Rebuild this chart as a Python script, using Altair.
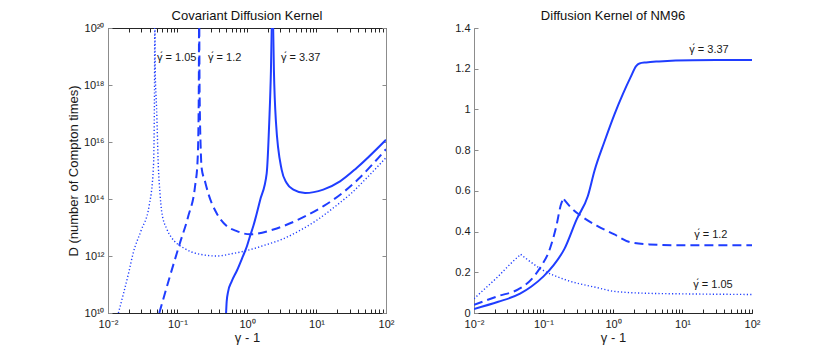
import altair as alt
import pandas as pd

FONT = "Liberation Sans"
BLUE = "#1f3dff"
XDARK = "#262626"
YGRAY = "#8c8c8c"
W, H = 278, 285

# ---------------- Left panel: Covariant Diffusion Kernel (x = gamma-1, values = log10 D) ----
dot_a_x = [0.0141, 0.02, 0.023, 0.03, 0.039, 0.045, 0.0462, 0.0468, 0.0471]
dot_a_e = [10.0, 11.45, 12.1, 12.9, 13.75, 15.1, 16.5, 18.5, 21.0]
dot_b_x = [0.0473, 0.0478, 0.05, 0.053, 0.056, 0.0593, 0.07, 0.0824, 0.1, 0.121, 0.16,
           0.211, 0.363, 0.635, 1.1, 1.8, 3.3, 6.0, 10.0, 20.0, 31.6, 50.0, 100.0]
dot_b_e = [21.0, 18.5, 17.2, 15.15, 14.2, 13.55, 12.95, 12.64, 12.42, 12.29, 12.14,
           12.06, 12.0, 12.09, 12.22, 12.38, 12.6, 12.92, 13.25, 13.8, 14.2, 14.68, 15.45]

dash_a_x = [0.0547, 0.078, 0.1086, 0.143, 0.179, 0.194, 0.2, 0.203, 0.2045]
dash_a_e = [10.0, 11.3, 12.46, 13.4, 14.45, 15.3, 16.5, 18.5, 21.0]
dash_b_x = [0.2055, 0.207, 0.21, 0.215, 0.222, 0.25, 0.277, 0.366, 0.51, 0.7, 1.1,
            2.4, 7.2, 12.6, 21.9, 40.0, 63.0, 100.0]
dash_b_e = [21.0, 18.5, 17.0, 15.9, 15.1, 14.6, 14.2, 13.5, 13.05, 12.88, 12.76,
            12.93, 13.42, 13.75, 14.15, 14.7, 15.2, 15.75]

sol_a_x = [0.5, 0.51, 0.535, 0.6, 0.72, 0.86, 1.0, 1.1, 1.233, 1.54, 1.92, 2.09, 2.21, 2.31]
sol_a_e = [10.0, 10.4, 10.75, 11.1, 11.5, 11.95, 12.35, 12.68, 13.05, 13.95, 14.9, 16.7, 18.5, 21.0]
sol_b_x = [2.34, 2.44, 2.61, 3.15, 3.72, 4.65, 6.84, 12.5, 21.8, 37.8, 100.0]
sol_b_e = [21.0, 18.5, 16.7, 15.03, 14.56, 14.33, 14.21, 14.33, 14.62, 15.09, 16.08]

left_lab_text = ["γ́ = 1.05", "γ́ = 1.2", "γ́ = 3.37"]
left_lab_x = [0.0507, 0.275, 3.08]
left_lab_e = [18.93, 18.93, 18.93]

# ---------------- Right panel: Diffusion Kernel of NM96 ----------------
r_sol_x = [0.01, 0.0223, 0.046, 0.067, 0.1, 0.14, 0.2, 0.3, 0.435, 0.543, 0.75, 1.05,
           1.38, 1.8, 2.15, 2.4, 3.0, 4.6, 14.0, 100.0]
r_sol_y = [0.02, 0.055, 0.095, 0.13, 0.18, 0.235, 0.315, 0.46, 0.575, 0.7, 0.84, 0.976,
           1.074, 1.16, 1.213, 1.226, 1.231, 1.236, 1.242, 1.243]

r_dash_up_x = [0.01, 0.0223, 0.0432, 0.067, 0.093, 0.123, 0.153, 0.181, 0.197]
r_dash_up_y = [0.04, 0.083, 0.116, 0.165, 0.231, 0.313, 0.427, 0.54, 0.558]
r_dash_dn_x = [0.197, 0.25, 0.35, 0.6, 1.05, 1.73, 3.33, 8.0, 100.0]
r_dash_dn_y = [0.558, 0.517, 0.476, 0.427, 0.386, 0.349, 0.337, 0.333, 0.333]

r_dot_up_x = [0.01, 0.0144, 0.0223, 0.032, 0.047]
r_dot_up_y = [0.07, 0.12, 0.18, 0.235, 0.288]
r_dot_dn_x = [0.047, 0.06, 0.093, 0.2, 0.6, 1.05, 3.0, 10.0, 100.0]
r_dot_dn_y = [0.288, 0.26, 0.215, 0.165, 0.124, 0.106, 0.097, 0.094, 0.091]

right_lab_text = ["γ́ = 3.37", "γ́ = 1.2", "γ́ = 1.05"]
right_lab_x = [12.5, 14.7, 14.3]
right_lab_y = [1.29, 0.383, 0.138]

# ---------------- tick values ----------------
x_major = [0.01, 0.1, 1, 10, 100]
x_major_exp = [-2, -1, 0, 1, 2]
x_ticks = [m * 10.0 ** e for e in range(-2, 2) for m in range(1, 10)] + [100.0]
y_left_major = [1e10, 1e12, 1e14, 1e16, 1e18, 1e20]
y_left_exp = [10, 12, 14, 16, 18, 20]
y_right_major = [0, 0.2, 0.4, 0.6, 0.8, 1.0, 1.2, 1.4]

SUP = str.maketrans("-0123456789", "⁻⁰¹²³⁴⁵⁶⁷⁸⁹")


def pow_label_expr(values, exps):
    parts = []
    for v, e in zip(values, exps):
        parts.append(f"abs(datum.value - {v!r}) <= {abs(v) * 1e-6!r} ? '10{str(e).translate(SUP)}'")
    return " : ".join(parts) + " : ''"


def branches_df(branches, expo=False):
    rows = []
    for b, (xs, ys) in enumerate(branches):
        for x, y in zip(xs, ys):
            rows.append({"x": x, "y": (10.0 ** y) if expo else y, "b": b})
    return pd.DataFrame(rows)


def build_panel(curves, labels, xscale, yscale, title, ytitle, ymajor, ylabel_kw, box):
    xs_lab = alt.Axis(orient="bottom", values=x_major, labelExpr=pow_label_expr(x_major, x_major_exp),
                      title="γ - 1", ticks=False, tickSize=0, grid=False, domainColor=XDARK,
                      labelPadding=5, titlePadding=2, labelFlush=False)
    ys_lab = alt.Axis(orient="left", values=ymajor, title=ytitle, ticks=False, tickSize=0, grid=False,
                      domainColor=YGRAY, labelPadding=4, titlePadding=0, minExtent=28, maxExtent=28,
                      **ylabel_kw)
    xs_in_b = alt.Axis(orient="top", offset=-H, values=x_ticks, labels=False, title=None, tickSize=4,
                       grid=False, domainColor=XDARK, tickColor=XDARK)
    ys_in_l = alt.Axis(orient="right", offset=-W, values=ymajor, labels=False, title=None, tickSize=4,
                       grid=False, domainColor=YGRAY, tickColor=YGRAY)
    xs_in_t = alt.Axis(orient="bottom", offset=-H, values=x_ticks, labels=False, title=None, tickSize=4,
                       grid=False, domainColor=XDARK, tickColor=XDARK)
    ys_in_r = alt.Axis(orient="left", offset=-W, values=ymajor, labels=False, title=None, tickSize=4,
                       grid=False, domainColor=YGRAY, tickColor=YGRAY)
    axes = [(xs_lab, ys_lab), (xs_in_b, ys_in_l)]
    if box:
        axes.append((xs_in_t, ys_in_r))
    layers = []
    for i, (df, dash, width) in enumerate(curves):
        ax = axes[i] if i < len(axes) else (None, None)
        mk = dict(color=BLUE, strokeWidth=width, clip=True, interpolate="monotone")
        if dash:
            mk["strokeDash"] = dash
        layers.append(
            alt.Chart(df).mark_line(**mk).encode(
                x=alt.X("x:Q", scale=xscale, axis=ax[0]),
                y=alt.Y("y:Q", scale=yscale, axis=ax[1]),
                detail="b:N",
            )
        )
    layers.append(
        alt.Chart(labels).mark_text(align="left", baseline="middle", font=FONT, fontSize=11,
                                    color="#1a1a1a").encode(
            x=alt.X("x:Q", scale=xscale, axis=None),
            y=alt.Y("y:Q", scale=yscale, axis=None),
            text="t:N",
        )
    )
    return alt.layer(*layers).resolve_axis(x="independent", y="independent").properties(
        width=W, height=H,
        title=alt.TitleParams(title, font=FONT, fontSize=13, fontWeight="normal", color="#111",
                              anchor="middle", offset=-1),
    )


left_curves = [
    (branches_df([(dot_a_x, dot_a_e), (dot_b_x, dot_b_e)], expo=True), [1.2, 2.2], 1.4),
    (branches_df([(dash_a_x, dash_a_e), (dash_b_x, dash_b_e)], expo=True), [9, 5], 2),
    (branches_df([(sol_a_x, sol_a_e), (sol_b_x, sol_b_e)], expo=True), None, 2),
]
left_labels = pd.DataFrame({"x": left_lab_x, "y": [10.0 ** e for e in left_lab_e], "t": left_lab_text})

right_curves = [
    (branches_df([(r_sol_x, r_sol_y)]), None, 2),
    (branches_df([(r_dash_up_x, r_dash_up_y), (r_dash_dn_x, r_dash_dn_y)]), [9, 5], 2),
    (branches_df([(r_dot_up_x, r_dot_up_y), (r_dot_dn_x, r_dot_dn_y)]), [1.2, 2.2], 1.4),
]
right_labels = pd.DataFrame({"x": right_lab_x, "y": right_lab_y, "t": right_lab_text})

xscale = alt.Scale(type="log", domain=[0.01, 100], nice=False)
left = build_panel(left_curves, left_labels, xscale,
                   alt.Scale(type="log", domain=[1e10, 1e20], nice=False),
                   "Covariant Diffusion Kernel", "D (number of Compton times)", y_left_major,
                   dict(labelExpr=pow_label_expr(y_left_major, y_left_exp)), True)
right = build_panel(right_curves, right_labels, xscale,
                    alt.Scale(type="linear", domain=[0, 1.4], nice=False, zero=False),
                    "Diffusion Kernel of NM96", None, y_right_major,
                    dict(format=".1~f"), False)

chart = alt.hconcat(left, right, spacing=52).properties(
    padding={"left": 59, "top": 2, "right": 5, "bottom": 2}
).configure_view(stroke=None).configure_axis(
    labelFont=FONT, titleFont=FONT, labelFontSize=11, titleFontSize=13,
    labelColor="#1a1a1a", titleColor="#1a1a1a", titleFontWeight="normal", domainWidth=1,
)

chart.save("out.html", embed_options={"renderer": "svg", "actions": False})
